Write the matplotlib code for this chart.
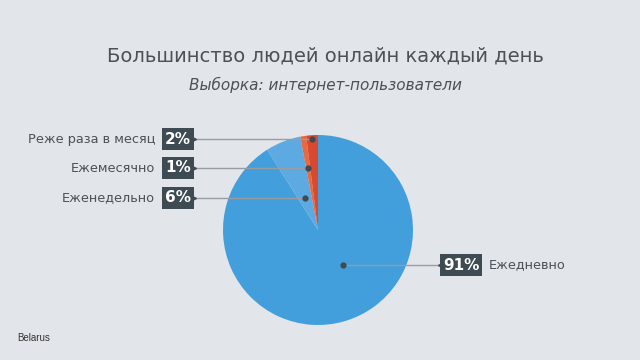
import numpy as np
import matplotlib.pyplot as plt

# данные
categories = ['Ежедневно', 'Еженедельно', 'Ежемесячно', 'Реже раза в месяц']
shares = [91, 6, 1, 2]
colors = ['#429fdb', '#5daae2', '#e8693f', '#d9492f']
label_y = [95, 162, 192, 221]          # высота строки подписи (px снизу)
label_side = ['right', 'left', 'left', 'left']

bg = '#e2e5e9'
fig = plt.figure(figsize=(6.4, 3.6), dpi=100, facecolor=bg)
ax = fig.add_axes([0, 0, 1, 1])

cx, cy, R = 318, 130, 95
wedges, _ = ax.pie(shares, colors=colors, startangle=90, counterclock=False,
                   center=(cx, cy), radius=R, frame=True,
                   wedgeprops=dict(linewidth=0))
ax.set_xlim(0, 640)
ax.set_ylim(0, 360)
ax.set_aspect('equal')
ax.axis('off')

fig.text(0.508, 0.845, 'Большинство людей онлайн каждый день', ha='center',
         va='center', fontsize=14, color='#4b5157')
fig.text(0.509, 0.765, 'Выборка: интернет-пользователи', ha='center',
         va='center', fontsize=11, style='italic', color='#4b5157')

box = dict(boxstyle='square,pad=0.2', fc='#3e4b53', ec='none')
for w, cat, val, ly, side in zip(wedges, categories, shares, label_y, label_side):
    mid = np.deg2rad((w.theta1 + w.theta2) / 2)
    if side == 'right':
        mid = np.deg2rad(w.theta1 + 0.56 * (w.theta2 - w.theta1))
    # точка на луче сектора на высоте подписи
    dy = ly - cy
    r = dy / np.sin(mid)
    px = cx + r * np.cos(mid)
    if side == 'left':
        bx = 193
        ax.plot([bx, px], [ly, ly], color='#979da3', lw=1, zorder=3)
        ax.plot(bx, ly, marker='>', ms=4, color='#3e4b53', zorder=4)
        ax.text(bx - 2, ly, f'{val}%', ha='right', va='center', fontsize=11,
                fontweight='bold', color='white', bbox=box, zorder=5)
        ax.text(155, ly, cat, ha='right', va='center', fontsize=9.3,
                color='#4b5157')
    else:
        bx = 441
        ax.plot([px, bx], [ly, ly], color='#979da3', lw=1, zorder=3)
        ax.plot(bx, ly, marker='<', ms=4, color='#3e4b53', zorder=4)
        ax.text(bx + 2, ly, f'{val}%', ha='left', va='center', fontsize=11,
                fontweight='bold', color='white', bbox=box, zorder=5)
        ax.text(489, ly, cat, ha='left', va='center', fontsize=9.3,
                color='#4b5157')
    ax.plot(px, ly, 'o', ms=3.5, color='#3e4b53', zorder=4)

fig.text(0.027, 0.06, 'Belarus', ha='left', va='center', fontsize=7,
         family='Liberation Sans', color='#333333')

fig.savefig('out.png', dpi=100, facecolor=bg)
